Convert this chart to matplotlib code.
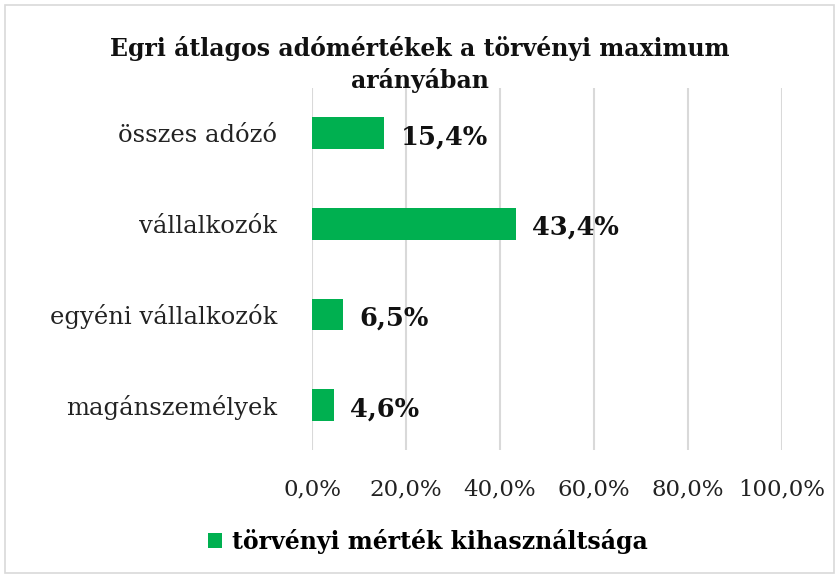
import matplotlib.pyplot as plt
from matplotlib.patches import Rectangle

categories = ['összes adózó', 'vállalkozók', 'egyéni vállalkozók', 'magánszemélyek']
values = [15.4, 43.4, 6.5, 4.6]
xticks = [0, 20, 40, 60, 80, 100]
series_name = 'törvényi mérték kihasználtsága'
title = 'Egri átlagos adómértékek a törvényi maximum\narányában'

green = '#00b050'
plt.rcParams['font.family'] = ['DejaVu Serif']

fig = plt.figure(figsize=(8.39, 5.78), dpi=100)
ax = fig.add_axes([0.372, 0.221, 0.560, 0.627])

ypos = list(range(len(categories)))
ax.barh(ypos, values, height=0.35, color=green, label=series_name, zorder=3)
ax.set_ylim(len(categories) - 0.5, -0.5)
ax.set_xlim(0, 100)

for y, v in zip(ypos, values):
    ax.text(v + 3.5, y + 0.04, f'{v:.1f}%'.replace('.', ','), va='center', ha='left',
            fontsize=18.5, fontweight='bold', color='#111111')

ax.set_yticks(ypos)
ax.set_yticklabels(categories, fontsize=17.5, color='#222222')
ax.set_xticks(xticks)
ax.set_xticklabels([f'{t:.1f}%'.replace('.', ',') for t in xticks], fontsize=16.5, color='#222222')
ax.tick_params(axis='both', length=0)
ax.tick_params(axis='y', pad=25)
ax.tick_params(axis='x', pad=20)
ax.grid(axis='x', color='#d9d9d9', linewidth=1.5, zorder=0)
for s in ax.spines.values():
    s.set_visible(False)

fig.text(0.5, 0.888, title, ha='center', va='center', fontsize=17, fontweight='bold',
         linespacing=1.35, color='#111111')

leg = fig.legend(loc='center', bbox_to_anchor=(0.51, 0.064), frameon=False,
                 prop={'size': 17, 'weight': 'bold'}, handlelength=0.6, handleheight=0.6,
                 handletextpad=0.45)

fig.patches.append(Rectangle((0.006, 0.008), 0.988, 0.984, transform=fig.transFigure,
                             fill=False, edgecolor='#d9d9d9', linewidth=1.2))

fig.savefig('out.png', dpi=100)
